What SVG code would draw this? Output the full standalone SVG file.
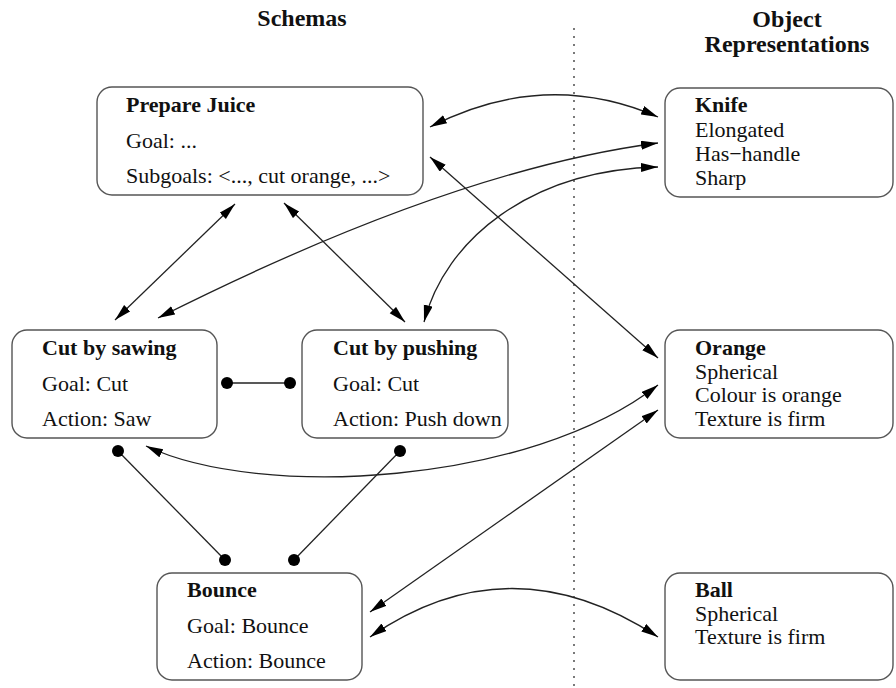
<svg xmlns="http://www.w3.org/2000/svg" width="896" height="688" viewBox="0 0 896 688">
<style>
.box{fill:#fff;stroke:#555;stroke-width:1.4}
.t{font-family:"Liberation Serif","Times New Roman",serif;font-size:22px;fill:#111}
.b{font-weight:bold}
.h{font-family:"Liberation Serif","Times New Roman",serif;font-size:24px;font-weight:bold;fill:#111;text-anchor:middle}
.c{fill:none;stroke:#222;stroke-width:1.3}
.dot{fill:#000}
</style>
<defs>
<marker id="ah" markerUnits="userSpaceOnUse" markerWidth="18" markerHeight="10" refX="17" refY="4.5" orient="auto-start-reverse">
<path d="M0,0 L17,4.5 L0,9 z" fill="#000"/>
</marker>
</defs>
<rect width="896" height="688" fill="#fff"/>
<text class="h" x="302" y="26">Schemas</text>
<text class="h" x="787" y="27">Object</text>
<text class="h" x="787" y="52">Representations</text>
<line x1="574" y1="28" x2="574" y2="686" stroke="#333" stroke-width="1.3" stroke-dasharray="2 6"/>
<g id="connectors">
<path class="c" d="M430,127 Q545,68 658,117" marker-start="url(#ah)" marker-end="url(#ah)"/>
<path class="c" d="M158,318 Q452,170 658,143" marker-start="url(#ah)" marker-end="url(#ah)"/>
<path class="c" d="M424,322 C445,240 530,170 658,167" marker-start="url(#ah)" marker-end="url(#ah)"/>
<path class="c" d="M430,157 L658,358" marker-start="url(#ah)" marker-end="url(#ah)"/>
<path class="c" d="M235,204 L115,320" marker-start="url(#ah)" marker-end="url(#ah)"/>
<path class="c" d="M284,203 L405,322" marker-start="url(#ah)" marker-end="url(#ah)"/>
<path class="c" d="M146,446 C260,500 530,485 658,385" marker-start="url(#ah)" marker-end="url(#ah)"/>
<path class="c" d="M370,612 L658,410" marker-start="url(#ah)" marker-end="url(#ah)"/>
<path class="c" d="M370,637 Q510,540 658,637" marker-start="url(#ah)" marker-end="url(#ah)"/>
<line class="c" x1="227" y1="383" x2="290" y2="383"/>
<circle class="dot" cx="227" cy="383" r="6"/>
<circle class="dot" cx="290" cy="383" r="6"/>
<line class="c" x1="118" y1="451" x2="225" y2="560"/>
<circle class="dot" cx="118" cy="451" r="6"/>
<circle class="dot" cx="225" cy="560" r="6"/>
<line class="c" x1="400" y1="451" x2="294" y2="560"/>
<circle class="dot" cx="400" cy="451" r="6"/>
<circle class="dot" cx="294" cy="560" r="6"/>
</g>
<g id="prepare-juice">
<rect class="box" x="97" y="87" width="326" height="108" rx="15"/>
<text class="t b" x="126" y="112">Prepare Juice</text>
<text class="t" x="126" y="148">Goal: ...</text>
<text class="t" x="126" y="183">Subgoals: &lt;..., cut orange, ...&gt;</text>
</g>
<g id="cut-by-sawing">
<rect class="box" x="12" y="330" width="205" height="108" rx="15"/>
<text class="t b" x="42" y="355">Cut by sawing</text>
<text class="t" x="42" y="391">Goal: Cut</text>
<text class="t" x="42" y="426">Action: Saw</text>
</g>
<g id="cut-by-pushing">
<rect class="box" x="302" y="330" width="206" height="108" rx="15"/>
<text class="t b" x="333" y="355">Cut by pushing</text>
<text class="t" x="333" y="391">Goal: Cut</text>
<text class="t" x="333" y="426">Action: Push down</text>
</g>
<g id="bounce">
<rect class="box" x="157" y="573" width="205" height="107" rx="15"/>
<text class="t b" x="187" y="597">Bounce</text>
<text class="t" x="187" y="633">Goal: Bounce</text>
<text class="t" x="187" y="668">Action: Bounce</text>
</g>
<g id="knife">
<rect class="box" x="665" y="88" width="228" height="109" rx="15"/>
<text class="t b" x="695" y="112">Knife</text>
<text class="t" x="695" y="137">Elongated</text>
<text class="t" x="695" y="161">Has−handle</text>
<text class="t" x="695" y="185">Sharp</text>
</g>
<g id="orange">
<rect class="box" x="665" y="330" width="228" height="108" rx="15"/>
<text class="t b" x="695" y="355">Orange</text>
<text class="t" x="695" y="379">Spherical</text>
<text class="t" x="695" y="402">Colour is orange</text>
<text class="t" x="695" y="426">Texture is firm</text>
</g>
<g id="ball">
<rect class="box" x="665" y="573" width="228" height="107" rx="15"/>
<text class="t b" x="695" y="597">Ball</text>
<text class="t" x="695" y="621">Spherical</text>
<text class="t" x="695" y="644">Texture is firm</text>
</g>
</svg>
